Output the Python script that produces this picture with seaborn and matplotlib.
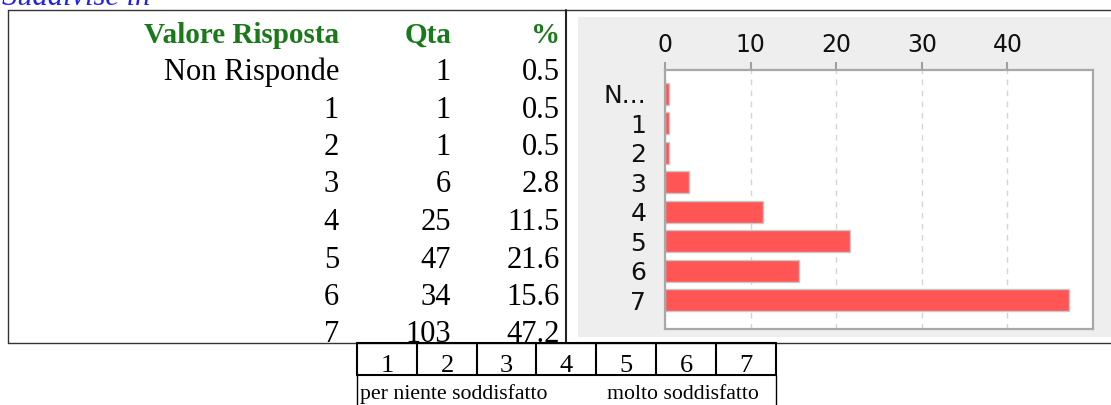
import matplotlib
matplotlib.use("Agg")
import matplotlib.pyplot as plt
import seaborn as sns
from matplotlib.lines import Line2D
from matplotlib.patches import Rectangle

# data
answers = ["Non Risponde", "1", "2", "3", "4", "5", "6", "7"]
bar_labels = ["N...", "1", "2", "3", "4", "5", "6", "7"]
counts = [1, 1, 1, 6, 25, 47, 34, 103]
percent = [0.5, 0.5, 0.5, 2.8, 11.5, 21.6, 15.6, 47.2]
x_ticks = [0, 10, 20, 30, 40]
scale_values = ["1", "2", "3", "4", "5", "6", "7"]
scale_low = "per niente soddisfatto"
scale_high = "molto soddisfatto"
caption = "Suddivise in"

sns.set_style("white")
plt.rcParams['font.family'] = ['DejaVu Sans']

W, H = 1111, 405
fig = plt.figure(figsize=(W / 100, H / 100), dpi=100)


def fx(x):
    return x / W


def fy(y):
    return 1 - y / H


def line(x0, y0, x1, y1, lw=1.0, color='#222222'):
    fig.add_artist(Line2D([fx(x0), fx(x1)], [fy(y0), fy(y1)],
                          transform=fig.transFigure, lw=lw, color=color))


serif = ['Liberation Serif', 'DejaVu Serif']
green = '#1a7a1a'

# caption, cut at the top edge as in the original page
fig.text(fx(2), fy(5), caption, family=serif, style='italic', color='#2020ee',
         fontsize=22, va='baseline', ha='left')

# outer table frame
line(8, 10, W, 10, lw=1.0, color='#333333')
line(8, 10, 8, 343, lw=1.0, color='#333333')
line(8, 343, W, 343, lw=1.0, color='#333333')
line(566, 10, 566, 343, lw=1.5, color='#222222')

# table header and rows
col_right = [339, 451, 560]
for x, head in zip(col_right, ["Valore Risposta", "Qta", "%"]):
    fig.text(fx(x), fy(43), head, family=serif, weight='bold',
             color=green, fontsize=21, ha='right', va='baseline')
for i, (a, c, p) in enumerate(zip(answers, counts, percent)):
    yb = 80 + 37.5 * i
    for x, txt in zip(col_right, [a, str(c), f"{p:.1f}"]):
        fig.text(fx(x), fy(yb), txt, family=serif, fontsize=22,
                 ha='right', va='baseline', color='black')

# gray chart panel
fig.add_artist(Rectangle((fx(578), fy(337)), fx(W - 578), (337 - 17) / H,
                         transform=fig.transFigure, facecolor='#eeeeee',
                         edgecolor='none', zorder=-1))

# bar chart
ax = fig.add_axes([fx(665), fy(329), fx(1093 - 665), (329 - 70) / H])
ax.set_facecolor('white')
sns.barplot(x=percent, y=bar_labels, ax=ax, orient='h', color='#ff5555',
            saturation=1, width=0.74, edgecolor='#c8c8c8', linewidth=1)
ax.set_xlim(0, 50)
ax.set_ylim(7.98, -0.81)
ax.set_xticks(x_ticks)
ax.set_xticklabels([str(t) for t in x_ticks])
ax.xaxis.tick_top()
ax.tick_params(axis='x', top=True, bottom=False, labeltop=True, labelbottom=False,
               length=6, width=1.5, color='#a0a0a0', labelsize=17, pad=3,
               labelcolor='#111111')
ax.tick_params(axis='y', left=False, labelsize=18, pad=10, labelcolor='#111111')
ax.set_xlabel('')
ax.set_ylabel('')
ax.xaxis.grid(True, linestyle=(0, (4, 4)), color='#d4d4d4', linewidth=1)
ax.yaxis.grid(False)
ax.set_axisbelow(True)
for s in ax.spines.values():
    s.set_visible(True)
    s.set_color('#a8a8a8')
    s.set_linewidth(1.6)

# satisfaction scale below the table
xs = [357, 417, 477, 536, 596, 656, 716, 776]
line(357, 343, 776, 343, lw=1.5, color='black')
line(357, 375, 776, 375, lw=1.5, color='black')
for x in xs:
    line(x, 343, x, 375, lw=1.5, color='black')
for i, v in enumerate(scale_values):
    fig.text(fx((xs[i] + xs[i + 1]) / 2), fy(372), v, family=serif, fontsize=19,
             ha='center', va='baseline', color='black')
line(357, 375, 357, H, lw=1.0, color='black')
line(776, 375, 776, H, lw=1.0, color='black')
fig.text(fx(360), fy(399), scale_low, family=serif, fontsize=15.7,
         ha='left', va='baseline', color='black')
fig.text(fx(759), fy(399), scale_high, family=serif, fontsize=15.7,
         ha='right', va='baseline', color='black')

fig.savefig("out.png", dpi=100)
